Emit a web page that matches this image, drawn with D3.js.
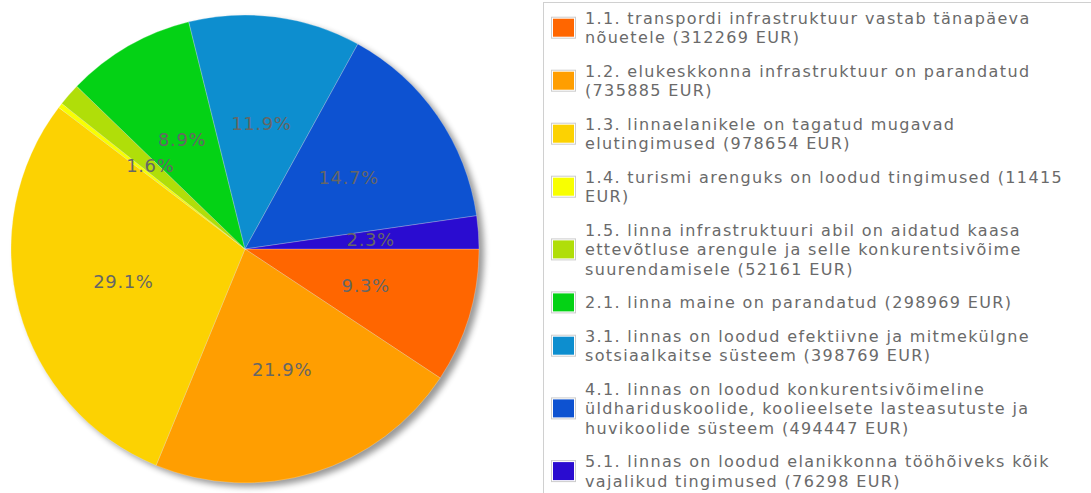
<!DOCTYPE html>
<head>
  <meta charset="utf-8">
  <title>Pie</title>
  <script src="https://d3js.org/d3.v7.min.js"></script>
  <style>
    body { margin: 0; background: #fff; }
    text { font-family: 'DejaVu Sans', Verdana, sans-serif; }
    .pct { font-size: 18px; fill: #666; letter-spacing: 0.6px; }
    .legend-text { font-size: 16px; fill: #6a6a6a; letter-spacing: 1.35px; }
  </style>
</head>
<body>
  <script>
    // data
    var names = [
      "1.1. transpordi infrastruktuur vastab tänapäeva nõuetele",
      "1.2. elukeskkonna infrastruktuur on parandatud",
      "1.3. linnaelanikele on tagatud mugavad elutingimused",
      "1.4. turismi arenguks on loodud tingimused",
      "1.5. linna infrastruktuuri abil on aidatud kaasa ettevõtluse arengule ja selle konkurentsivõime suurendamisele",
      "2.1. linna maine on parandatud",
      "3.1. linnas on loodud efektiivne ja mitmekülgne sotsiaalkaitse süsteem",
      "4.1. linnas on loodud konkurentsivõimeline üldhariduskoolide, koolieelsete lasteasutuste ja huvikoolide süsteem",
      "5.1. linnas on loodud elanikkonna tööhõiveks kõik vajalikud tingimused"
    ];
    var values = [312269, 735885, 978654, 11415, 52161, 298969, 398769, 494447, 76298];
    var colors = ["#FF6600", "#FF9E01", "#FCD202", "#F8FF01", "#B0DE09", "#04D215", "#0D8ECF", "#0D52D1", "#2A0CD0"];

    var W = 1091, H = 493;
    var cx = 245, cy = 249, r = 234;

    var svg = d3.select("body").append("svg")
      .attr("width", W)
      .attr("height", H);

    var defs = svg.append("defs");
    defs.append("filter")
      .attr("id", "blur")
      .attr("x", "-10%").attr("y", "-10%")
      .attr("width", "120%").attr("height", "120%")
      .append("feGaussianBlur")
      .attr("stdDeviation", 3);

    var total = d3.sum(values);
    var data = names.map((n, i) => ({name: n, value: values[i], color: colors[i]}));

    // starts at 3 o'clock, clockwise
    var pie = d3.pie()
      .value(d => d.value)
      .sort(null)
      .startAngle(Math.PI / 2)
      .endAngle(Math.PI / 2 + 2 * Math.PI);

    var arc = d3.arc().innerRadius(0).outerRadius(r);
    var labelArc = d3.arc().innerRadius(126).outerRadius(126);

    var g = svg.append("g")
      .attr("transform", "translate(" + cx + "," + cy + ")");

    // shadow
    g.append("circle")
      .attr("cx", 5)
      .attr("cy", 4)
      .attr("r", r)
      .style("fill", "#000")
      .style("opacity", 0.4)
      .attr("filter", "url(#blur)");

    var arcs = pie(data);

    g.selectAll("path.slice")
      .data(arcs)
      .enter().append("path")
        .attr("class", "slice")
        .attr("d", arc)
        .style("fill", d => d.data.color)
        .style("stroke", "#fff")
        .style("stroke-opacity", 0.3)
        .style("stroke-width", 0.8);

    var fmt = d3.format(".1f");
    g.selectAll("text.pct")
      .data(arcs.filter(d => d.data.value / total >= 0.01))
      .enter().append("text")
        .attr("class", "pct")
        .attr("transform", d => "translate(" + labelArc.centroid(d) + ")")
        .attr("text-anchor", "middle")
        .attr("dy", "0.35em")
        .text(d => fmt(d.data.value / total * 100) + "%");

    // legend
    var legend = svg.append("g");
    legend.append("rect")
      .attr("x", 543.5)
      .attr("y", 2.5)
      .attr("width", 600)
      .attr("height", 600)
      .style("fill", "#fff")
      .style("stroke", "#d0d0d0");

    var textX = 585, maxW = 496, lineH = 19.4, gap = 14.2;
    var y = 24;
    data.forEach(function(d) {
      var item = legend.append("g");
      var t = item.append("text")
        .attr("class", "legend-text")
        .attr("x", textX)
        .attr("y", y);
      // greedy wrap
      var words = (d.name + " (" + d.value + " EUR)").split(" ");
      var lines = [], cur = [];
      var probe = legend.append("text").attr("class", "legend-text");
      words.forEach(function(w) {
        var test = cur.concat([w]).join(" ");
        probe.text(test);
        if (cur.length && probe.node().getComputedTextLength() > maxW) {
          lines.push(cur.join(" "));
          cur = [w];
        } else {
          cur.push(w);
        }
      });
      lines.push(cur.join(" "));
      probe.remove();
      lines.forEach(function(l, i) {
        t.append("tspan")
          .attr("x", textX)
          .attr("y", y + i * lineH)
          .text(l);
      });
      var mid = y - 6 + (lines.length - 1) * lineH / 2;
      item.append("rect")
        .attr("x", 551.5)
        .attr("y", mid - 10.5)
        .attr("width", 24)
        .attr("height", 21)
        .style("fill", "#fff")
        .style("stroke", "#ccc");
      item.append("rect")
        .attr("x", 553)
        .attr("y", mid - 9)
        .attr("width", 21)
        .attr("height", 18)
        .style("fill", d.color);
      y += lines.length * lineH + gap;
    });
  </script>
</body>
